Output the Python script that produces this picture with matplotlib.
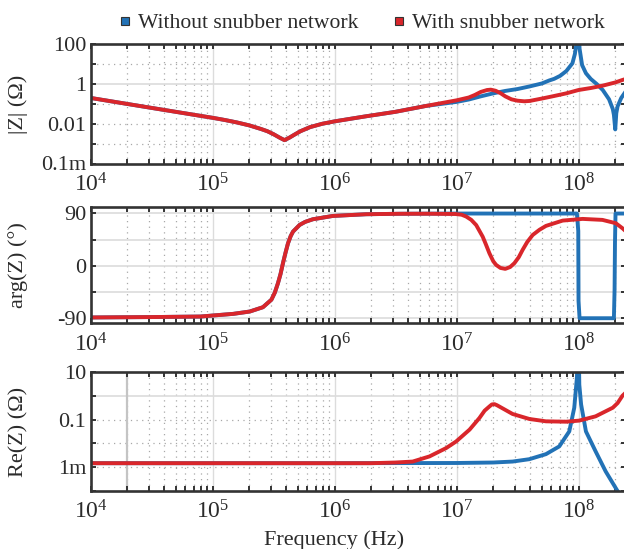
import matplotlib
matplotlib.use('Agg')
import matplotlib.pyplot as plt
from matplotlib.lines import Line2D

plt.rcParams['font.family'] = ['Liberation Serif', 'DejaVu Serif']
plt.rcParams['mathtext.fontset'] = 'custom'
plt.rcParams['mathtext.rm'] = 'Liberation Serif'
plt.rcParams['mathtext.it'] = 'Liberation Serif:italic'

# ---------------- data ----------------
series_names = ['Without snubber network', 'With snubber network']
colors = ['#2272b6', '#d9262b']

# |Z| with snubber
f_mag_red = [1.0e4, 1.78e4, 3.16e4, 5.62e4, 1.0e5, 1.26e5, 1.58e5, 2.0e5, 2.51e5, 2.82e5,
             3.16e5, 3.55e5, 3.89e5, 4.27e5, 4.68e5, 5.25e5, 6.31e5, 7.94e5, 1.0e6, 1.78e6,
             3.16e6, 5.62e6, 1.0e7, 1.26e7, 1.41e7, 1.58e7, 1.78e7, 1.91e7, 2.09e7, 2.29e7,
             2.51e7, 2.82e7, 3.16e7, 3.6e7, 3.98e7, 5.01e7, 6.31e7, 7.94e7, 1.0e8, 1.26e8,
             1.58e8, 2.0e8, 2.29e8, 2.51e8]
mag_red = [0.20, 0.112, 0.063, 0.0355, 0.020, 0.0155, 0.0117, 0.0083, 0.0054, 0.0042,
           0.0030, 0.0020, 0.0015, 0.0020, 0.0028, 0.0042, 0.0068, 0.0100, 0.0132, 0.0234,
           0.040, 0.079, 0.151, 0.21, 0.28, 0.40, 0.50, 0.52, 0.46, 0.35,
           0.24, 0.17, 0.145, 0.135, 0.141, 0.186, 0.25, 0.34, 0.50, 0.63,
           0.83, 1.20, 1.6, 1.9]

# |Z| without snubber
f_mag_blue = [1.0e4, 1.78e4, 3.16e4, 5.62e4, 1.0e5, 1.26e5, 1.58e5, 2.0e5, 2.51e5, 2.82e5,
              3.16e5, 3.55e5, 3.89e5, 4.27e5, 4.68e5, 5.25e5, 6.31e5, 7.94e5, 1.0e6, 1.78e6,
              3.16e6, 5.62e6, 1.0e7, 1.26e7, 1.58e7, 2.0e7, 2.51e7, 3.16e7, 3.98e7, 5.01e7,
              5.75e7, 6.31e7, 7.08e7, 7.94e7, 8.91e7, 9.33e7, 9.77e7, 1.0e8, 1.02e8, 1.07e8,
              1.15e8, 1.26e8, 1.41e8, 1.58e8, 1.78e8, 1.91e8, 1.95e8, 2.0e8, 2.04e8, 2.09e8,
              2.24e8, 2.51e8]
mag_blue = [0.20, 0.112, 0.063, 0.0355, 0.020, 0.0155, 0.0117, 0.0083, 0.0054, 0.0042,
            0.0030, 0.0020, 0.0015, 0.0020, 0.0028, 0.0042, 0.0068, 0.0100, 0.0132, 0.0234,
            0.040, 0.079, 0.126, 0.166, 0.24, 0.34, 0.45, 0.56, 0.76, 1.07,
            1.51, 1.82, 2.6, 4.5, 11.0, 32.0, 200.0, 1000.0, 60.0, 9.0,
            3.5, 1.8, 1.0, 0.5, 0.17, 0.055, 0.028, 0.0052, 0.034, 0.075,
            0.2, 0.55]

# arg(Z) with snubber
f_ph_red = [1.0e4, 3.16e4, 7.94e4, 1.48e5, 2.02e5, 2.59e5, 3.04e5, 3.24e5, 3.44e5, 3.61e5,
            3.78e5, 3.96e5, 4.16e5, 4.37e5, 4.57e5, 5.18e5, 5.75e5, 6.65e5, 9.7e5, 1.82e6,
            3.41e6, 6.0e6, 9.77e6, 1.1e7, 1.2e7, 1.32e7, 1.45e7, 1.64e7, 1.74e7, 1.86e7,
            2.0e7, 2.11e7, 2.29e7, 2.51e7, 2.75e7, 2.98e7, 3.24e7, 3.48e7, 3.8e7, 4.21e7,
            4.79e7, 5.41e7, 7.41e7, 1.08e8, 1.57e8, 2.02e8, 2.29e8, 2.51e8]
ph_red = [-88.5, -87.8, -86.9, -82.3, -78.3, -70.9, -58.0, -46.0, -29.7, -14.0,
          4.6, 22.0, 38.9, 51.0, 58.8, 70.3, 75.5, 80.0, 85.7, 88.6,
          89.4, 89.5, 89.0, 87.8, 84.6, 79.0, 70.0, 50.0, 37.0, 21.7,
          8.0, 1.7, -3.5, -5.1, -2.0, 4.6, 15.0, 27.4, 41.0, 53.0,
          62.0, 68.6, 77.7, 80.6, 78.9, 73.2, 64.6, 57.0]

# arg(Z) without snubber
f_ph_blue = [1.0e4, 3.16e4, 7.94e4, 1.48e5, 2.02e5, 2.59e5, 3.04e5, 3.24e5, 3.44e5, 3.61e5,
             3.78e5, 3.96e5, 4.16e5, 4.37e5, 4.57e5, 5.18e5, 5.75e5, 6.65e5, 9.7e5, 1.82e6,
             3.41e6, 6.0e6, 1.0e7, 9.7e7, 9.95e7, 1.0e8, 1.02e8, 1.95e8, 1.975e8, 1.99e8,
             2.01e8, 2.51e8]
ph_blue = [-88.5, -87.8, -86.9, -82.3, -78.3, -70.9, -58.0, -46.0, -29.7, -14.0,
           4.6, 22.0, 38.9, 51.0, 58.8, 70.3, 75.5, 80.0, 85.7, 88.6,
           89.4, 89.6, 89.8, 89.8, 60.0, -60.0, -89.8, -89.8, -40.0, 40.0,
           89.8, 89.8]

# Re(Z) with snubber
f_re_red = [1.0e4, 1.0e5, 1.0e6, 2.0e6, 3.16e6, 4.37e6, 6.0e6, 8.22e6, 9.93e6, 1.28e7,
            1.54e7, 1.7e7, 1.86e7, 1.95e7, 2.05e7, 2.14e7, 2.24e7, 2.88e7, 3.95e7, 5.41e7,
            7.89e7, 1.01e8, 1.38e8, 1.91e8, 2.09e8, 2.29e8, 2.51e8]
re_red = [1.45e-3, 1.45e-3, 1.45e-3, 1.45e-3, 1.55e-3, 1.7e-3, 2.8e-3, 6.3e-3, 0.012, 0.038,
          0.117, 0.24, 0.36, 0.44, 0.45, 0.41, 0.36, 0.174, 0.107, 0.085,
          0.082, 0.091, 0.138, 0.32, 0.50, 1.02, 1.6]

# Re(Z) without snubber
f_re_blue = [1.0e4, 1.0e5, 1.0e6, 1.0e7, 2.0e7, 2.88e7, 3.95e7, 5.41e7, 6.95e7, 8.4e7,
             9.23e7, 9.7e7, 1.0e8, 1.015e8, 1.05e8, 1.15e8, 1.38e8, 1.67e8, 2.08e8, 2.51e8]
re_blue = [1.45e-3, 1.45e-3, 1.45e-3, 1.48e-3, 1.55e-3, 1.7e-3, 2.14e-3, 3.5e-3, 7.4e-3, 0.032,
           0.32, 5.9, 500.0, 3.0, 0.44, 0.032, 4.6e-3, 6.5e-4, 1.0e-4, 3.0e-5]

x_ticks = [1e4, 1e5, 1e6, 1e7, 1e8]
x_ticklabels = [r'$\mathregular{10^{4}}$', r'$\mathregular{10^{5}}$', r'$\mathregular{10^{6}}$',
                r'$\mathregular{10^{7}}$', r'$\mathregular{10^{8}}$']
mag_ticks = [1e-4, 1e-3, 1e-2, 1e-1, 1, 10, 100]
mag_ticklabels = ['0.1m', '', '0.01', '', '1', '', '100']
ph_ticks = [-90, -45, 0, 45, 90]
ph_ticklabels = ['-90', '', '0', '', '90']
re_ticks = [1e-4, 1e-3, 1e-2, 1e-1, 1, 10]
re_ticklabels = ['', '1m', '', '0.1', '', '10']

# ---------------- figure ----------------
TXT = '#2b2b2b'
SP = '#333333'
W, H = 624, 549
fig = plt.figure(figsize=(W / 100, H / 100), dpi=100)

left = 90.5 / W
width = (626 - 90.5) / W
def pos(top, bottom):
    return [left, 1 - bottom / H, width, (bottom - top) / H]

ax1 = fig.add_axes(pos(44.3, 163.5))
ax2 = fig.add_axes(pos(207.3, 323.3))
ax3 = fig.add_axes(pos(372.3, 490.7))

XMIN, XMAX = 1e4, 2.45e8
minor_x = [m * 10 ** e for e in range(4, 9) for m in range(2, 10) if m * 10 ** e < XMAX]

def style(ax, yticks, ylabels, ylim, solid_h, dotted_h):
    ax.set_xscale('log')
    ax.set_xticks(x_ticks)
    ax.set_xticklabels(x_ticklabels)
    ax.set_xticks(minor_x, minor=True)
    ax.set_xticklabels([], minor=True)
    ax.set_yticks(yticks)
    ax.set_yticklabels(ylabels)
    ax.yaxis.set_minor_locator(matplotlib.ticker.NullLocator())
    for v in x_ticks[1:]:
        ax.axvline(v, color='#dcdcdc', lw=1.0, zorder=0)
    for v in minor_x:
        ax.axvline(v, color='#a8a8a8', lw=0.9, ls=(0, (1, 3.5)), zorder=0)
    for v in solid_h:
        ax.axhline(v, color='#dcdcdc', lw=1.2, zorder=0)
    for v in dotted_h:
        ax.axhline(v, color='#a8a8a8', lw=0.9, ls=(0, (1, 3.5)), zorder=0)
    ax.set_xlim(XMIN, XMAX)
    ax.set_ylim(*ylim)
    for s in ax.spines.values():
        s.set_color(SP)
        s.set_linewidth(1.9)
    ax.tick_params(which='both', direction='in', top=True, right=True,
                   length=3.8, width=1.4, color=SP, labelcolor=TXT, labelsize=16)
    ax.tick_params(axis='x', which='major', pad=7.0, labelsize=17)
    ax.tick_params(axis='y', which='major', pad=3)

# |Z|
ax1.set_yscale('log')
ax1.plot(f_mag_blue, mag_blue, color=colors[0], lw=2.8, solid_joinstyle='round')
ax1.plot(f_mag_red, mag_red, color=colors[1], lw=2.8, solid_joinstyle='round')
style(ax1, mag_ticks, mag_ticklabels, (1e-4, 100), [1], [10, 0.1, 0.01, 1e-3])
ax1.set_ylabel('|Z| (Ω)', fontsize=16, color=TXT)

# arg(Z)
ax2.plot(f_ph_blue, ph_blue, color=colors[0], lw=2.8, solid_joinstyle='round')
ax2.plot(f_ph_red, ph_red, color=colors[1], lw=2.8, solid_joinstyle='round')
style(ax2, ph_ticks, ph_ticklabels, (-98.5, 100.5), [90, 45, 0, -45, -90], [])
ax2.set_ylabel('arg(Z) (°)', fontsize=16, color=TXT)

# Re(Z)
ax3.set_yscale('log')
ax3.plot(f_re_blue, re_blue, color=colors[0], lw=2.8, solid_joinstyle='round')
ax3.plot(f_re_red, re_red, color=colors[1], lw=2.8, solid_joinstyle='round')
style(ax3, re_ticks, re_ticklabels, (1e-4, 10), [1], [0.1, 0.01, 1e-3])
ax3.axvline(2e4, color='#c4c4c4', lw=1.6, zorder=0)
ax3.set_ylabel('Re(Z) (Ω)', fontsize=16, color=TXT)
ax3.set_xlabel('Frequency (Hz)', fontsize=16, color=TXT)
ax3.xaxis.set_label_coords((334 - 90.5) / 535.5, -0.335)

for ax in (ax1, ax2, ax3):
    ax.yaxis.set_label_coords((28 - 90.5) / 535.5, 0.5)

handles = [Line2D([], [], ls='', marker='s', markersize=6.2, markerfacecolor=c,
                  markeredgecolor='#333333', markeredgewidth=0.8) for c in colors]
fig.legend(handles, series_names, loc='center', bbox_to_anchor=(362 / W, 1 - 23 / H),
           ncol=2, frameon=False, fontsize=15.6, handlelength=0.5, handletextpad=0.35,
           columnspacing=1.6, borderpad=0, labelcolor=TXT)

fig.savefig('out.png', dpi=100)
